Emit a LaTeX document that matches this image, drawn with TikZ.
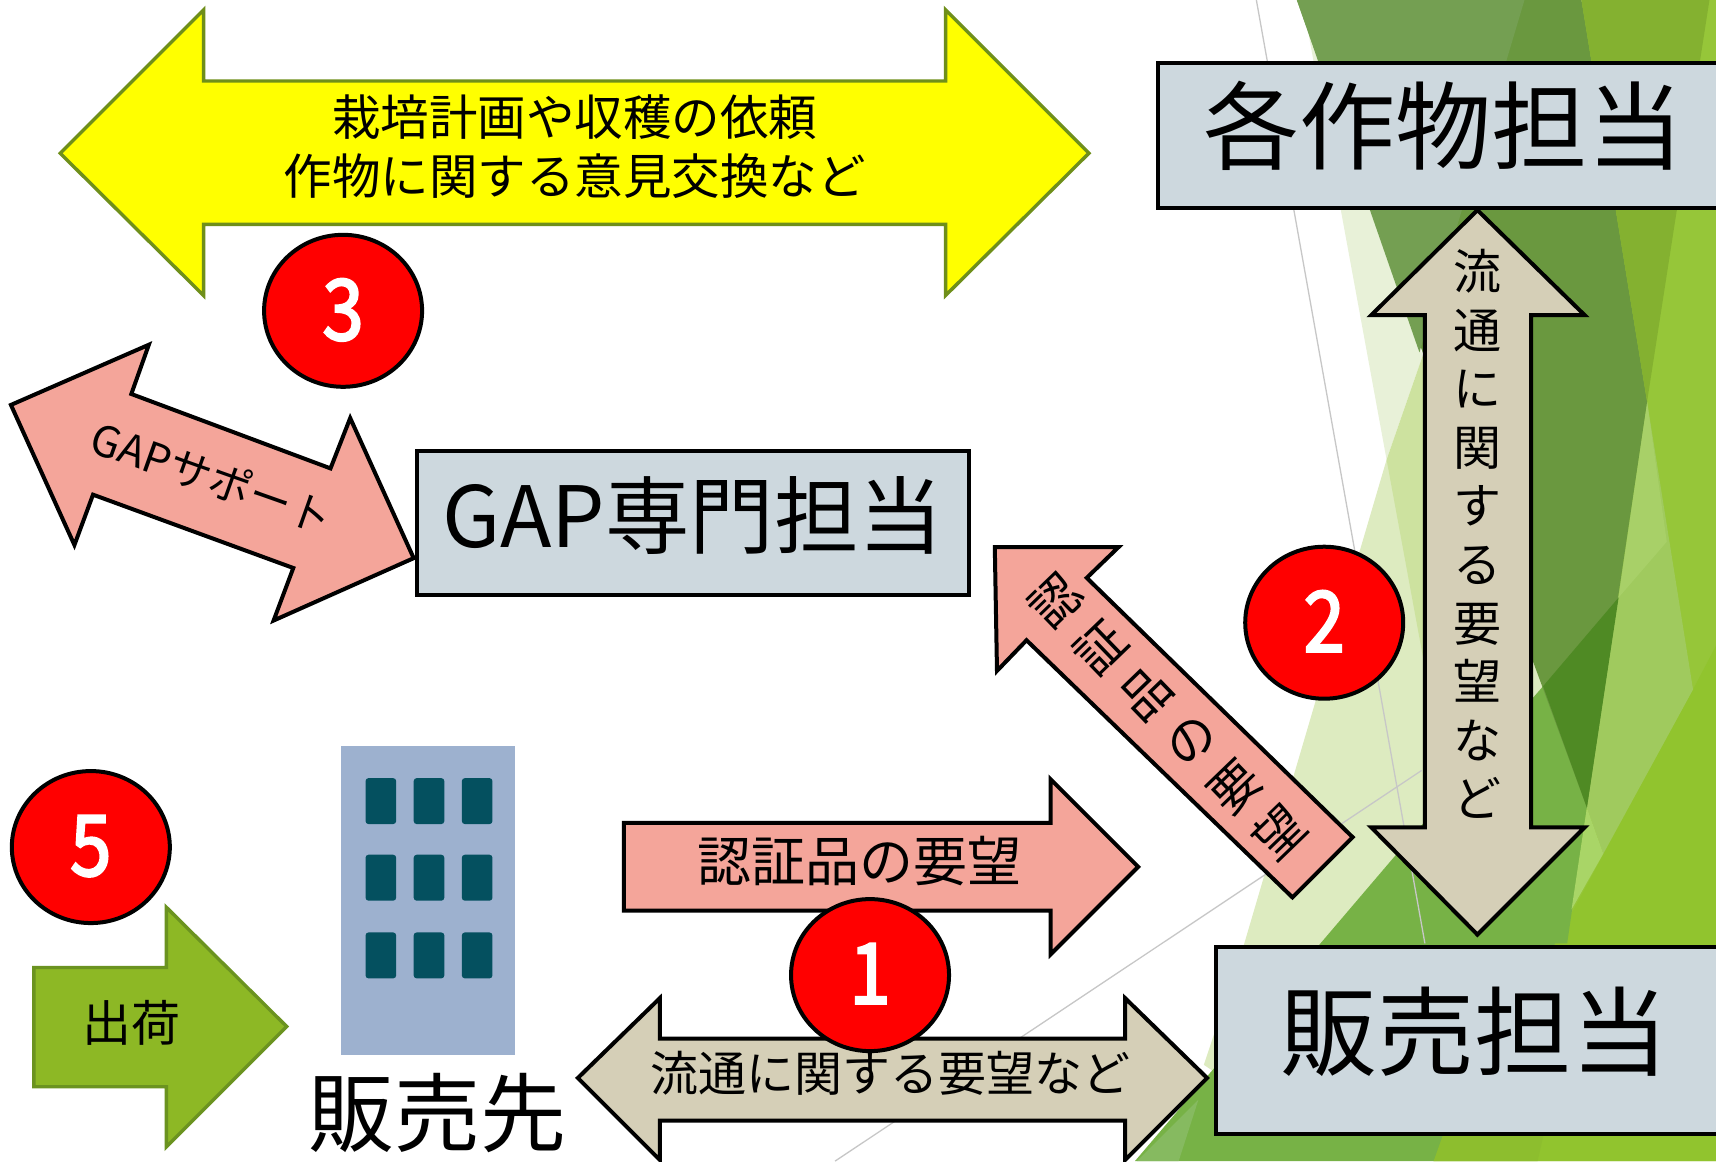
\documentclass[tikz,border=0pt]{standalone}
\usepackage{fontspec}
\usepackage{graphicx}
\usetikzlibrary{shapes.geometric}
\setmainfont{Noto Sans CJK JP}
\newfontfamily\digitfont[FakeBold=3]{Noto Sans CJK JP}
\newcommand{\myfs}[1]{\fontsize{#1}{#1}\selectfont}
\newcommand{\digit}[1]{\raisebox{3pt}{\scalebox{.88}[1]{#1}}}
\definecolor{pale}{HTML}{E8F1D8}
\definecolor{paleb}{HTML}{DDEBC0}
\definecolor{lightg}{HTML}{CDE29F}
\definecolor{band}{HTML}{6A983F}
\definecolor{bandl}{HTML}{749F52}
\definecolor{bright}{HTML}{96C639}
\definecolor{brightl}{HTML}{91C42E}
\definecolor{botg}{HTML}{8DBE2E}
\definecolor{topg}{HTML}{84B130}
\definecolor{lightr}{HTML}{A0CA5E}
\definecolor{lightu}{HTML}{A8D068}
\definecolor{lightt}{HTML}{A9D567}
\definecolor{midg}{HTML}{77B246}
\definecolor{darkt}{HTML}{4F8A24}
\definecolor{lowl}{HTML}{86BA60}
\definecolor{pinkf}{HTML}{F4A59A}
\definecolor{beige}{HTML}{D5CFB7}
\definecolor{boxf}{HTML}{CDD8DE}
\definecolor{grn}{HTML}{8DB825}
\definecolor{grne}{HTML}{6B9320}
\definecolor{yele}{HTML}{6F8F1A}
\definecolor{yelf}{HTML}{FFFF00}
\definecolor{redf}{HTML}{FF0000}
\definecolor{bldg}{HTML}{9DB1CF}
\definecolor{wind}{HTML}{04505F}
\tikzset{
  shapeblack/.style={draw=black,line width=4pt,miter limit=10},
  pinkarrow/.style={shapeblack,fill=pinkf},
  beigearrow/.style={shapeblack,fill=beige},
  labelbox/.style={shapeblack,fill=boxf},
  badge/.style={ellipse,draw=black,line width=4pt,fill=redf,minimum width=158pt,minimum height=152pt,inner sep=0pt,text=white,font=\digitfont\myfs{84}},
  txt/.style={inner sep=0pt,align=center,text=black},
  wnd/.style={fill=wind,rounded corners=3pt},
  bgline/.style={draw=black!22,line width=1.3pt}
}
\begin{document}
\begin{tikzpicture}[x=1.0944pt,y=-1.0944pt]
\clip (0,0) rectangle (1568,1061);
\fill[white] (0,0) rectangle (1568,1061);
% background facets
\fill[bright] (1445,0) -- (1568,0) -- (1568,1061) -- (1310,1061) -- (1419,790) -- cycle;
\fill[brightl] (1568,590) -- (1547,630) -- (1421,862) -- (1310,1061) -- (1568,1061) -- cycle;
\fill[pale] (1190,0) -- (1300,325) -- (1267,420) -- cycle;
\fill[paleb] (1267,420) -- (1401,600) -- (1410,627) -- (1285,770) -- (1109,979) -- (1100,973) -- (1137,862) -- cycle;
\fill[lightg] (1300,325) -- (1267,420) -- (1302,610) -- (1350,400) -- cycle;
\fill[midg] (1410,627) -- (1285,770) -- (1037,1061) -- (1310,1061) -- (1421,862) -- (1432,862) -- (1450,738) -- cycle;
\fill[lowl] (1039,1061) -- (1095,1005) -- (1077,1061) -- cycle;
\fill[botg] (1321,1030) -- (1310,1061) -- (1405,1061) -- (1412,1030) -- cycle;
\fill[lightr] (1505,367) -- (1547,630) -- (1465,780) -- (1450,738) -- cycle;
\fill[lightu] (1505,367) -- (1523,495) -- (1479,546) -- cycle;
\fill[lightt] (1450,738) -- (1465,780) -- (1436,831) -- cycle;
\fill[band] (1185,0) -- (1445,0) -- (1505,367) -- (1450,738) -- (1401,605) -- cycle;
\fill[bandl] (1185,0) -- (1393,0) -- (1297,322) -- cycle;
\fill[topg] (1445,0) -- (1562,0) -- (1505,367) -- cycle;
\fill[darkt] (1479,546) -- (1410,627) -- (1450,738) -- cycle;
\path[bgline] (1148,0) -- (1302,862);
\path[bgline] (763,1061) -- (1299,704);
% yellow arrow
\path[draw=yele,line width=3.4pt,fill=yelf] (55,140) -- (186,9) -- (186,74) -- (864,74) -- (864,9) -- (995,140) -- (864,270) -- (864,205) -- (186,205) -- (186,270) -- cycle;
\node[txt,font=\myfs{48.5}] (yt) at (525,134) {栽培計画や収穫の依頼\\[11pt]作物に関する意見交換など};
% boxes
\path[labelbox] (1058,58) rectangle (1590,190);
\node[txt,font=\myfs{96}] (b1) at (1319,115) {各作物担当};
\path[labelbox] (381,412) rectangle (885,544);
\node[txt,font=\myfs{84.5}] (b2) at (633,471) {GAP専門担当};
\path[labelbox] (1111,865) rectangle (1590,1036);
\node[txt,font=\myfs{97}] (b3) at (1347,943) {販売担当};
% vertical arrow
\path[beigearrow] (1350,192) -- (1448,288) -- (1399,288) -- (1399,756) -- (1448,756) -- (1350,854) -- (1253,756) -- (1302,756) -- (1302,288) -- (1253,288) -- cycle;
\node[txt,font=\fontsize{48}{58.6}\selectfont] (vt) at (1350,488) {流\\通\\に\\関\\す\\る\\要\\望\\な\\ど};
% pink diagonal
\path[pinkarrow] (909,500) -- (1022,500) -- (993,528) -- (1236,765) -- (1181,820) -- (938,585) -- (911,613) -- cycle;
\node[txt,font=\fontsize{50}{64.4}\selectfont,rotate=44] (dt) at (1067,655) {認\\証\\品\\の\\要\\望};
% pink horizontal
\path[pinkarrow] (570,752) -- (960,752) -- (960,712) -- (1040,792) -- (960,872) -- (960,832) -- (570,832) -- cycle;
\node[txt,font=\myfs{54}] (ht) at (785,787) {認証品の要望};
% beige horizontal
\path[beigearrow] (528,985) -- (603,912) -- (603,949) -- (1028,949) -- (1028,912) -- (1103,985) -- (1028,1060) -- (1028,1024) -- (603,1024) -- (603,1060) -- cycle;
\node[txt,font=\myfs{48}] (bt) at (814,981) {流通に関する要望など};
% GAP double arrow
\path[pinkarrow] (10,370) -- (136,315) -- (120,360) -- (302,428) -- (320,382) -- (378,510) -- (250,567) -- (268,519) -- (85,452) -- (68,498) -- cycle;
\node[txt,font=\myfs{42.5},rotate=-19.5] (gt) at (194,436) {GAPサポート};
% green arrow
\path[draw=grne,line width=3.4pt,fill=grn] (31,884) -- (152,884) -- (152,829) -- (262,938) -- (152,1048) -- (152,993) -- (31,993) -- cycle;
\node[txt,font=\myfs{49}] (st) at (120,935) {出荷};
% building
\fill[bldg] (312,682) rectangle (471,964);
\foreach \wx/\wy in {334/711,378/711,422/711,334/781,378/781,422/781,334/852,378/852,422/852}
  \fill[wnd] (\wx,\wy) rectangle +(28,42);
\node[txt,font=\myfs{86}] (bl) at (400,1017) {販売先};
% badges
\node[badge] (n3) at (313.5,284) {\digit{3}};
\node[badge] (n2) at (1210,569) {\digit{2}};
\node[badge] (n5) at (83,774) {\digit{5}};
\node[badge] (n1) at (795,891) {\digit{1}};
\end{tikzpicture}
\end{document}
